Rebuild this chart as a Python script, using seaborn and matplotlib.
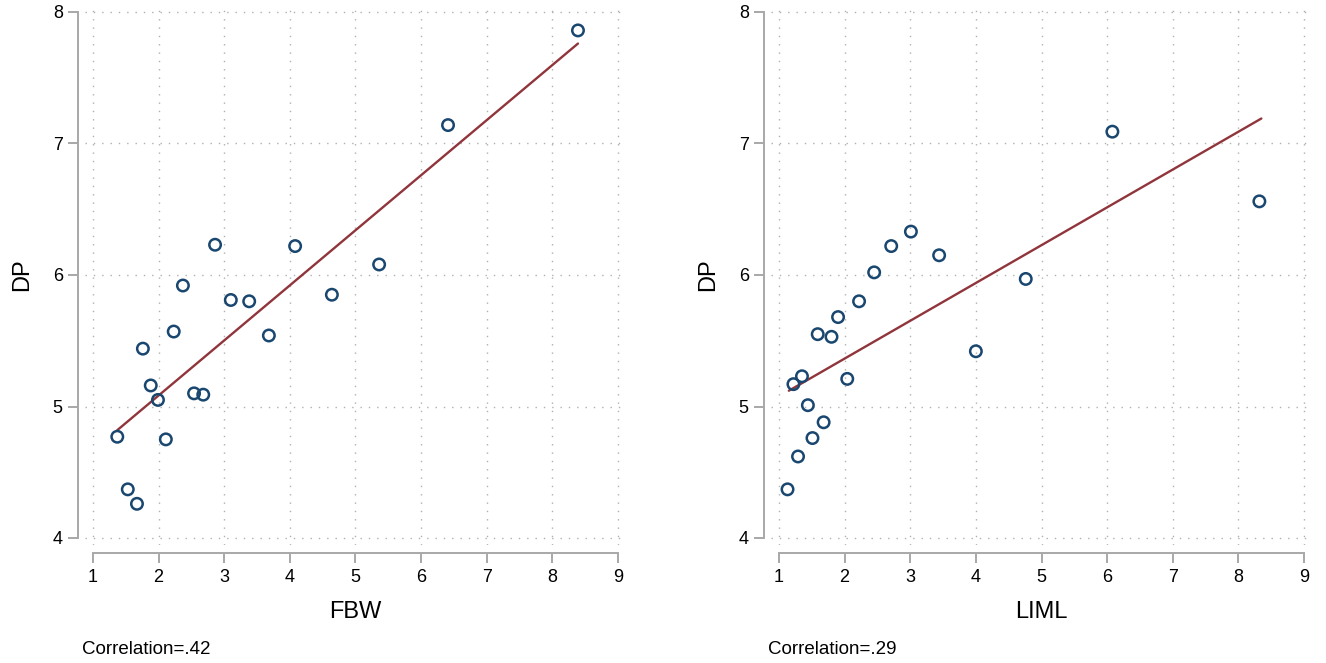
import numpy as np
import pandas as pd
import matplotlib
matplotlib.use("Agg")
import matplotlib.pyplot as plt
import seaborn as sns

# datos
fbw = [1.37, 1.53, 1.67, 1.76, 1.88, 1.99, 2.11, 2.23, 2.37, 2.54,
       2.68, 2.86, 3.10, 3.38, 3.68, 4.08, 4.64, 5.36, 6.41, 8.39]
dp_fbw = [4.77, 4.37, 4.26, 5.44, 5.16, 5.05, 4.75, 5.57, 5.92, 5.10,
          5.09, 6.23, 5.81, 5.80, 5.54, 6.22, 5.85, 6.08, 7.14, 7.86]
liml = [1.13, 1.29, 1.51, 1.68, 1.44, 1.22, 1.35, 2.04, 1.59, 1.80,
        1.90, 2.22, 4.00, 2.45, 2.71, 3.01, 3.44, 4.76, 6.08, 8.32]
dp_liml = [4.37, 4.62, 4.76, 4.88, 5.01, 5.17, 5.23, 5.21, 5.55, 5.53,
           5.68, 5.80, 5.42, 6.02, 6.22, 6.33, 6.15, 5.97, 7.09, 6.56]

# recta ajustada (extremos)
fit_fbw_x = [1.37, 8.39]
fit_fbw_y = [4.82, 7.76]
fit_liml_x = [1.15, 8.35]
fit_liml_y = [5.12, 7.19]

corr_labels = ["Correlation=.42", "Correlation=.29"]
xlabels = ["FBW", "LIML"]
ticks_x = [1, 2, 3, 4, 5, 6, 7, 8, 9]
ticks_y = [4, 5, 6, 7, 8]

sns.set_style("white")
plt.rcParams['font.family'] = ['Liberation Sans', 'DejaVu Sans']
plt.rcParams['text.color'] = 'black'
plt.rcParams['axes.labelcolor'] = 'black'
plt.rcParams['xtick.labelcolor'] = 'black'
plt.rcParams['ytick.labelcolor'] = 'black'

W, H = 1326, 663
fig = plt.figure(figsize=(W / 100, H / 100), dpi=100)

azul = "#1a476f"
granate = "#90353b"
gris = "#a8a8a8"

paneles = [
    (85, fbw, dp_fbw, fit_fbw_x, fit_fbw_y),
    (771, liml, dp_liml, fit_liml_x, fit_liml_y),
]

for i, (left_px, xs, ys, fx, fy) in enumerate(paneles):
    ax = fig.add_axes([left_px / W, (H - 545) / H, 540 / W, 540 / H])
    df = pd.DataFrame({"x": xs, "y": ys})
    sns.lineplot(x=fx, y=fy, color=granate, linewidth=1.7, ax=ax, zorder=2)
    sns.scatterplot(data=df, x="x", y="y", ax=ax, marker="o", s=68,
                    facecolors="none", edgecolors=azul, linewidth=1.8, zorder=3)
    ax.set_xlim(1 - 8 / 65.625, 9 + 7 / 65.625)
    ax.set_ylim(4 - 7 / 131.5, 8 + 7 / 131.5)
    ax.set_xticks(ticks_x)
    ax.set_yticks(ticks_y)
    ax.grid(True, linestyle=(0, (1, 5)), color="#b0b0b0", linewidth=1.0)
    for s in ["top", "right"]:
        ax.spines[s].set_visible(False)
    ax.spines["left"].set_position(("outward", 5))
    ax.spines["bottom"].set_position(("outward", 6))
    ax.spines["left"].set_bounds(4, 8)
    ax.spines["bottom"].set_bounds(1, 9)
    for s in ["left", "bottom"]:
        ax.spines[s].set_color(gris)
        ax.spines[s].set_linewidth(1.4)
    ax.tick_params(axis="both", length=7, width=1.4, color=gris,
                   labelsize=13, pad=4, direction="out", left=True, bottom=True)
    ax.set_xlabel(xlabels[i], fontsize=17, labelpad=11)
    ax.set_ylabel("DP", fontsize=17, labelpad=14)
    fig.text((left_px - 3) / W, 1 - 650 / H, corr_labels[i], fontsize=13.5,
             va="center", ha="left")

plt.savefig("out.png", dpi=100)
